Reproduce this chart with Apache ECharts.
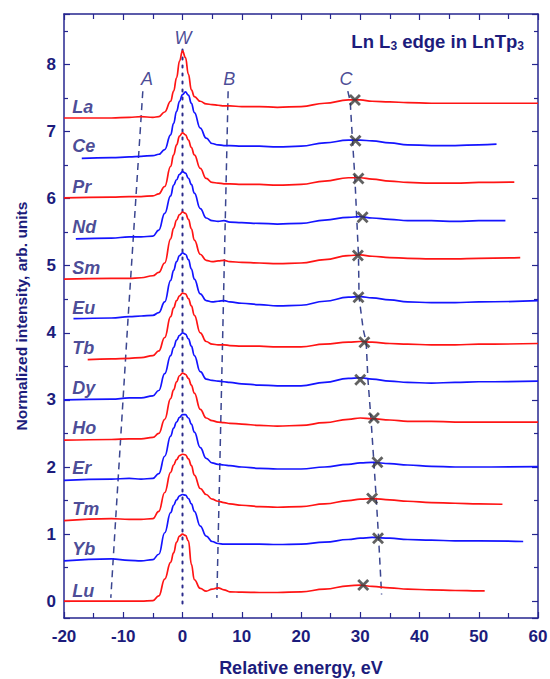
<!DOCTYPE html>
<html><head><meta charset="utf-8">
<script src="https://cdn.jsdelivr.net/npm/echarts@6/dist/echarts.min.js"></script>
<style>html,body{margin:0;padding:0;background:#fff}#c{width:550px;height:679px}</style>
</head><body><div id="c"></div>
<script>
// ---- data ----
const elements = ['La','Ce','Pr','Nd','Sm','Eu','Tb','Dy','Ho','Er','Tm','Yb','Lu'];
// shared interior energy grid (eV); each spectrum also has its own first and last energy
const energyGrid = [-12,-9,-7,-5,-4,-3,-2,-1.5,-1,-0.5,0,0.5,1,1.5,2,3,4,5,6,7,8,10,13,16,20,24,28,30,32,35,38,42,46,50];
const startEnergy = [-20,-17,-20,-18,-20,-18.4,-16,-20,-20,-20,-20,-20,-20];
const endEnergy   = [60,53,56,54.5,57,60,60,60,60,60,54,57.5,51];
// intensities: [at start, ...at energyGrid, at end]
const La = [7.20, 7.20,7.21,7.22,7.21,7.22,7.29,7.45,7.60,7.80,8.05, 8.20,8.10,7.85,7.62,7.52,7.45,7.41,7.40,7.39,7.38, 7.38,7.37,7.37,7.36,7.37,7.42,7.47,7.47,7.45,7.44, 7.43,7.42,7.42,7.42, 7.42];
const Ce = [6.60, 6.61,6.62,6.63,6.64,6.66,6.73,6.95,7.12,7.30,7.45, 7.55,7.59,7.54,7.42,7.28,7.05,6.90,6.82,6.80,6.79, 6.79,6.78,6.78,6.77,6.78,6.83,6.87,6.87,6.86,6.83, 6.80,6.79,6.79,6.80, 6.81];
const Pr = [6.01, 6.02,6.03,6.03,6.04,6.07,6.18,6.48,6.65,6.80,6.93, 6.98,6.95,6.87,6.76,6.65,6.45,6.30,6.24,6.23,6.22, 6.22,6.21,6.21,6.20,6.21,6.26,6.31,6.31,6.29,6.26, 6.24,6.23,6.23,6.24, 6.245];
const Nd = [5.40, 5.41,5.43,5.43,5.44,5.53,5.78,6.04,6.20,6.28,6.36, 6.40,6.38,6.30,6.21,6.08,5.85,5.71,5.67,5.66,5.67, 5.65,5.64,5.63,5.62,5.63,5.68,5.72,5.73,5.71,5.69, 5.67,5.67,5.66,5.67, 5.67];
const Sm = [4.80, 4.81,4.81,4.82,4.85,4.90,5.04,5.40,5.56,5.68,5.76, 5.80,5.78,5.69,5.55,5.38,5.17,5.08,5.06,5.07,5.08, 5.06,5.05,5.04,5.03,5.04,5.09,5.15,5.16,5.14,5.12, 5.11,5.10,5.10,5.11, 5.12];
const Eu = [4.21, 4.22,4.24,4.25,4.26,4.30,4.46,4.78,4.93,5.06,5.15, 5.19,5.17,5.09,4.95,4.80,4.58,4.48,4.46,4.47,4.48, 4.46,4.44,4.42,4.40,4.41,4.47,4.53,4.54,4.52,4.49, 4.46,4.45,4.45,4.46, 4.48];
const Tb = [3.60, 3.61,3.62,3.63,3.66,3.73,3.93,4.24,4.37,4.48,4.55, 4.59,4.58,4.51,4.40,4.26,4.00,3.87,3.83,3.82,3.82, 3.81,3.80,3.80,3.79,3.79,3.83,3.86,3.87,3.86,3.84, 3.83,3.82,3.82,3.83, 3.84];
const Dy = [3.00, 3.01,3.03,3.03,3.06,3.14,3.39,3.66,3.78,3.89,3.96, 4.00,3.98,3.91,3.80,3.66,3.42,3.31,3.29,3.28,3.27, 3.26,3.24,3.22,3.21,3.21,3.26,3.32,3.33,3.31,3.28, 3.26,3.25,3.26,3.27, 3.28];
const Ho = [2.40, 2.41,2.42,2.42,2.44,2.50,2.71,3.02,3.15,3.27,3.36, 3.40,3.38,3.32,3.22,3.10,2.86,2.73,2.69,2.67,2.66, 2.65,2.64,2.62,2.61,2.62,2.66,2.71,2.73,2.72,2.70, 2.68,2.68,2.67,2.67, 2.67];
const Er = [1.80, 1.82,1.83,1.82,1.83,1.90,2.16,2.46,2.58,2.67,2.74, 2.78,2.78,2.73,2.64,2.52,2.29,2.13,2.06,2.04,2.03, 2.02,2.00,1.98,1.97,1.97,2.00,2.04,2.06,2.07,2.05, 2.03,2.01,2.00,2.00, 2.005];
const Tm = [1.20, 1.23,1.22,1.22,1.23,1.34,1.62,1.92,2.03,2.11,2.17, 2.19,2.18,2.12,2.02,1.88,1.68,1.59,1.52,1.49,1.47, 1.45,1.43,1.41,1.40,1.41,1.45,1.50,1.52,1.53,1.51, 1.49,1.47,1.46,1.45, 1.445];
const Yb = [0.60, 0.63,0.61,0.60,0.62,0.70,1.02,1.32,1.43,1.51,1.57, 1.59,1.58,1.53,1.45,1.34,1.12,0.97,0.89,0.86,0.85, 0.85,0.85,0.85,0.845,0.85,0.88,0.92,0.94,0.95,0.94, 0.92,0.91,0.90,0.90, 0.89];
const Lu = [0.00, 0.00,0.00,0.00,0.01,0.08,0.33,0.58,0.72,0.88,0.97, 1.00,0.98,0.90,0.55,0.32,0.19,0.15,0.18,0.20,0.17, 0.14,0.135,0.13,0.13,0.14,0.18,0.23,0.24,0.22,0.20, 0.18,0.17,0.16,0.155, 0.155];
const spectra = [La,Ce,Pr,Nd,Sm,Eu,Tb,Dy,Ho,Er,Tm,Yb,Lu];
// element label positions
const labelEnergy = -18.6;
const labelY = [7.37,6.78,6.17,5.57,4.97,4.37,3.775,3.18,2.585,1.99,1.37,0.775,0.155];
// feature C markers (x)
const markersC = [[29.1,7.47],[29.2,6.86],[29.7,6.30],[30.4,5.72],[29.6,5.15],[29.7,4.53],[30.7,3.86],[30.0,3.30],[32.3,2.73],[32.9,2.07],[32.0,1.53],[33.0,0.94],[30.5,0.24]];
// guide lines
const lineA = [[-6.7,7.6],[-9.2,4.2],[-12.1,0.05]];
const lineB = [[7.7,7.6],[5.8,0.05]];
const lineC = [[27.9,7.6],[28.3,7.45],[28.7,6.86],[29.1,6.3],[29.4,5.72],[29.7,5.15],[29.8,4.53],[30.5,4.05],[31.0,3.86],[31.3,3.3],[31.8,2.73],[32.3,2.07],[32.7,1.53],[33.1,0.94],[33.6,0.1]];
const lineW = [[0,8.22],[0,-0.05]];
const featureLabels = [['A',-6.0,7.78],['B',7.9,7.78],['C',27.6,7.78],['W',0.1,8.39]];
const xTicks = {min:-20, max:60, interval:10};
const yRange = {min:-0.25, max:8.75};

// ---- chart ----
const navy = '#1c1c7c';
const axisCol = '#26268f';
const font = '"Liberation Sans", Arial, sans-serif';
const red = '#ff1414', blue = '#1414ff';

const series = [];
const guide = (d) => ({type:'line', data:d, showSymbol:false, symbol:'none', silent:true, z:1,
  lineStyle:{color:'#3b4690', width:1.5, type:[7,5]}});
series.push(guide(lineA), guide(lineB), guide(lineC));
series.push({type:'line', data:lineW, symbol:'none', z:1,
  lineStyle:{color:'#2b2b8c', width:2, type:[2,6], cap:'round'}});

spectra.forEach((vals, i) => {
  const pts = [[startEnergy[i], vals[0]]];
  energyGrid.forEach((e,k) => pts.push([e, vals[k+1]]));
  pts.push([endEnergy[i], vals[vals.length-1]]);
  series.push({type:'line', name:elements[i], data:pts, symbol:'none', smooth:0.45, smoothMonotone:'x', z:2,
    lineStyle:{color: i%2===0 ? red : blue, width:1.7}});
});

series.push({type:'scatter', data:markersC, z:5,
  symbol:'path://M2,0 L6,4 L10,0 L12,2 L8,6 L12,10 L10,12 L6,8 L2,12 L0,10 L4,6 L0,2 Z',
  symbolSize:12, itemStyle:{color:'#3a3a3a'}});

series.push({type:'scatter', z:6, symbolSize:0,
  data: elements.map((n,i)=>({name:n, value:[labelEnergy, labelY[i]]})),
  label:{show:true, position:'inside', align:'left', verticalAlign:'middle', formatter:'{b}',
    color:navy, fontSize:18, fontWeight:'bold', fontStyle:'italic', fontFamily:font}});

series.push({type:'scatter', z:6, symbolSize:0,
  data: featureLabels.map(f=>({name:f[0], value:[f[1], f[2]]})),
  label:{show:true, position:'inside', align:'center', verticalAlign:'middle', formatter:'{b}',
    color:navy, fontSize:18, fontStyle:'italic', fontFamily:font}});

const xBase = {type:'value', min:xTicks.min, max:xTicks.max, interval:xTicks.interval,
  axisLine:{show:true, onZero:false, lineStyle:{color:axisCol, width:1.5}},
  axisTick:{show:true, inside:true, length:6, lineStyle:{color:axisCol, width:1.2}},
  minorTick:{show:true, splitNumber:2, length:5, lineStyle:{color:axisCol, width:1.2}},
  splitLine:{show:false}};
const yBase = {type:'value', min:yRange.min, max:yRange.max, splitNumber:9,
  axisLine:{show:true, onZero:false, lineStyle:{color:axisCol, width:1.5}},
  axisTick:{show:true, inside:true, length:6, lineStyle:{color:axisCol, width:1.2}},
  minorTick:{show:true, splitNumber:2, length:4, lineStyle:{color:axisCol, width:1.2}},
  splitLine:{show:false}};

const chart = echarts.init(document.getElementById('c'), null, {renderer:'svg'});
chart.setOption({
  animation:false,
  backgroundColor:'#fff',
  title:{text:'{m|Ln L}{s|3}{m| edge in LnTp}{s|3}', right:21, top:25,
    textStyle:{rich:{
      m:{fontSize:18.5, fontWeight:'bold', color:navy, fontFamily:font, lineHeight:22, verticalAlign:'middle'},
      s:{fontSize:12, fontWeight:'bold', color:navy, fontFamily:font, lineHeight:13, verticalAlign:'bottom'}}}},
  grid:{left:64, right:12, top:14, bottom:61, containLabel:false, outerBoundsMode:'none'},
  xAxis:[
    Object.assign({}, xBase, {position:'bottom', name:'Relative energy, eV', nameLocation:'middle', nameGap:41,
      nameTextStyle:{color:navy, fontSize:18, fontWeight:'bold', fontFamily:font},
      axisLabel:{show:true, margin:10, color:navy, fontSize:17, fontWeight:'bold', fontFamily:font}}),
    Object.assign({}, xBase, {position:'top', axisLabel:{show:false}})
  ],
  yAxis:[
    Object.assign({}, yBase, {position:'left', name:'Normalized intensity, arb. units', nameLocation:'middle', nameGap:35,
      nameTextStyle:{color:navy, fontSize:15.5, fontWeight:'bold', fontFamily:font}, nameRotate:90,
      axisLabel:{show:true, margin:8, color:navy, fontSize:17, fontWeight:'bold', fontFamily:font,
        formatter:(v)=> Number.isInteger(v) ? String(v) : ''}}),
    Object.assign({}, yBase, {position:'right', axisLabel:{show:false}})
  ],
  series: series
});
</script></body></html>
